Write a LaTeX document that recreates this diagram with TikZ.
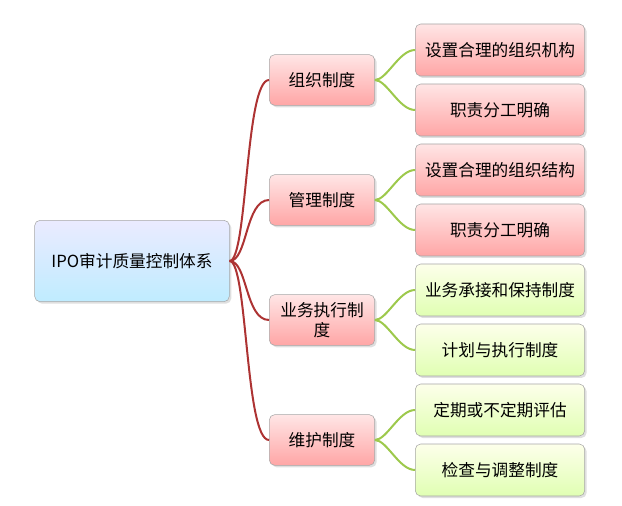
\documentclass[tikz,border=0pt]{standalone}
\usepackage{fontspec}
\setmainfont{Noto Sans CJK SC}
\usetikzlibrary{shadows}
\begin{document}
\begin{tikzpicture}[x=0.75pt,y=-0.75pt,
  base/.style={draw=black!35,rounded corners=4pt,align=center,font=\fontsize{12.5pt}{15pt}\selectfont,inner sep=0pt,drop shadow={opacity=0.25,shadow xshift=1.5pt,shadow yshift=-1.5pt}},
  rootbox/.style={base,top color=blue!8!white,bottom color=blue!30!cyan!25!white,minimum width=146pt,minimum height=61pt},
  lvone/.style={base,top color=red!10!white,bottom color=red!35!white,minimum width=79pt,minimum height=38pt},
  pinkbox/.style={base,top color=red!10!white,bottom color=red!35!white,minimum width=127pt,minimum height=39pt},
  greenbox/.style={base,top color=green!10!yellow!8!white,bottom color=green!40!yellow!30!white,minimum width=127pt,minimum height=39pt},
  redline/.style={draw=red!60!black!80,line width=1.5pt},
  greenline/.style={draw=green!45!black!55!yellow!70,line width=1.5pt}]
\useasboundingbox (0,0) rectangle (622,506);
\node[rootbox] (r) at (132,261) {IPO审计质量控制体系};
\node[lvone] (a) at (322,80) {组织制度};
\node[lvone] (b) at (322,200) {管理制度};
\node[lvone] (c) at (322,320) {业务执行制\\度};
\node[lvone] (d) at (322,440) {维护制度};
\node[pinkbox] (a1) at (500,50) {设置合理的组织机构};
\node[pinkbox] (a2) at (500,110) {职责分工明确};
\node[pinkbox] (b1) at (500,170) {设置合理的组织结构};
\node[pinkbox] (b2) at (500,230) {职责分工明确};
\node[greenbox] (c1) at (500,290) {业务承接和保持制度};
\node[greenbox] (c2) at (500,350) {计划与执行制度};
\node[greenbox] (d1) at (500,410) {定期或不定期评估};
\node[greenbox] (d2) at (500,470) {检查与调整制度};
\foreach \t in {a,b,c,d}
  \draw[redline] (r.east) .. controls +(18,0) and ([xshift=-18]\t.west) .. (\t.west);
\foreach \s/\t in {a/a1,a/a2,b/b1,b/b2,c/c1,c/c2,d/d1,d/d2}
  \draw[greenline] (\s.east) .. controls +(12,0) and ([xshift=-12]\t.west) .. (\t.west);
\end{tikzpicture}
\end{document}
